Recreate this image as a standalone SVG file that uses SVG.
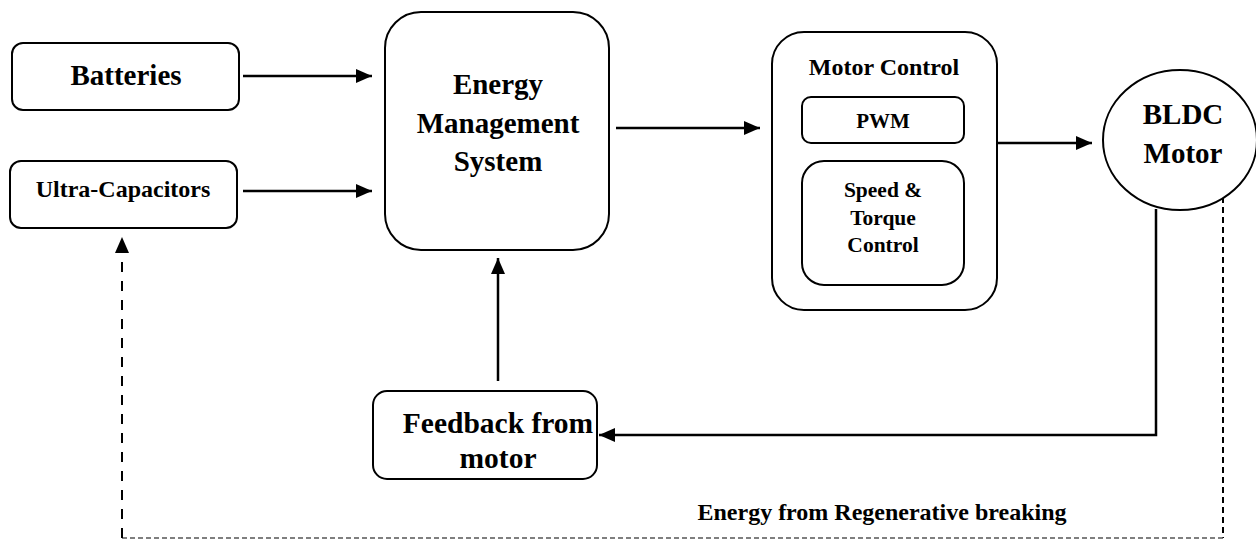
<svg xmlns="http://www.w3.org/2000/svg" width="1256" height="540" viewBox="0 0 1256 540">
<style>
.box{fill:#fff;stroke:#000;stroke-width:2}
.t{font-family:'Liberation Serif','DejaVu Serif','Times New Roman',serif;font-weight:700;fill:#000;text-anchor:middle}
.ln{fill:none;stroke:#000;stroke-width:2.5}
.dl{fill:none;stroke:#000;stroke-width:2;stroke-dasharray:10,9}
.dr{fill:none;stroke:#000;stroke-width:2;stroke-dasharray:6,4}
.db{fill:none;stroke:#555;stroke-width:1.5;stroke-dasharray:5,3}
</style>
<defs>
<marker id="ahb" viewBox="0 0 16 14" refX="16" refY="7" markerWidth="16" markerHeight="14" markerUnits="userSpaceOnUse" orient="auto">
<path d="M0,0 L16,7 L0,14 z" fill="#000"/>
</marker>
</defs>
<rect width="1256" height="540" fill="#fff"/>
<g id="connectors">
<line class="ln" x1="243" y1="76" x2="372" y2="76" marker-end="url(#ahb)"/>
<line class="ln" x1="243" y1="191" x2="372" y2="191" marker-end="url(#ahb)"/>
<line class="ln" x1="616" y1="128" x2="760" y2="128" marker-end="url(#ahb)"/>
<line class="ln" x1="998" y1="143" x2="1092" y2="143" marker-end="url(#ahb)"/>
<line class="ln" x1="498" y1="381" x2="498" y2="258" marker-end="url(#ahb)"/>
<polyline class="ln" points="1156,209 1156,435 599,435" marker-end="url(#ahb)"/>
<line class="dr" x1="1223" y1="197" x2="1223" y2="538"/>
<line class="db" x1="1223" y1="538" x2="122" y2="538"/>
<line class="dl" x1="122" y1="538" x2="122" y2="252"/>
<path d="M115,253 L122,237 L129,253 z" fill="#000"/>
</g>
<g id="batteries">
<rect class="box" x="12" y="43" width="227" height="67" rx="11"/>
<text class="t" x="126" y="85" font-size="29">Batteries</text>
</g>
<g id="ultracaps">
<rect class="box" x="10" y="161" width="227" height="67" rx="11"/>
<text class="t" x="123" y="197" font-size="24">Ultra-Capacitors</text>
</g>
<g id="ems">
<rect class="box" x="385" y="12" width="224" height="238" rx="36"/>
<text class="t" x="498" y="94" font-size="29">Energy</text>
<text class="t" x="498" y="133" font-size="29">Management</text>
<text class="t" x="498" y="171" font-size="29">System</text>
</g>
<g id="motorcontrol">
<rect class="box" x="772" y="32" width="225" height="278" rx="32"/>
<text class="t" x="884" y="75" font-size="24">Motor Control</text>
</g>
<g id="pwm">
<rect class="box" x="802" y="97" width="162" height="46" rx="9"/>
<text class="t" x="883" y="128" font-size="21">PWM</text>
</g>
<g id="speedtorque">
<rect class="box" x="802" y="161" width="162" height="124" rx="22"/>
<text class="t" x="883" y="197" font-size="21.5">Speed &amp;</text>
<text class="t" x="883" y="225" font-size="21.5">Torque</text>
<text class="t" x="883" y="252" font-size="21.5">Control</text>
</g>
<g id="bldc">
<ellipse class="box" cx="1180" cy="140" rx="77" ry="70"/>
<text class="t" x="1183" y="124" font-size="29">BLDC</text>
<text class="t" x="1183" y="163" font-size="29">Motor</text>
</g>
<g id="feedback">
<rect class="box" x="373" y="391" width="224" height="88" rx="14"/>
<text class="t" x="498" y="433" font-size="29.5">Feedback from</text>
<text class="t" x="498" y="468" font-size="29.5">motor</text>
</g>
<g id="label">
<text class="t" x="882" y="520" font-size="24">Energy from Regenerative breaking</text>
</g>
</svg>
